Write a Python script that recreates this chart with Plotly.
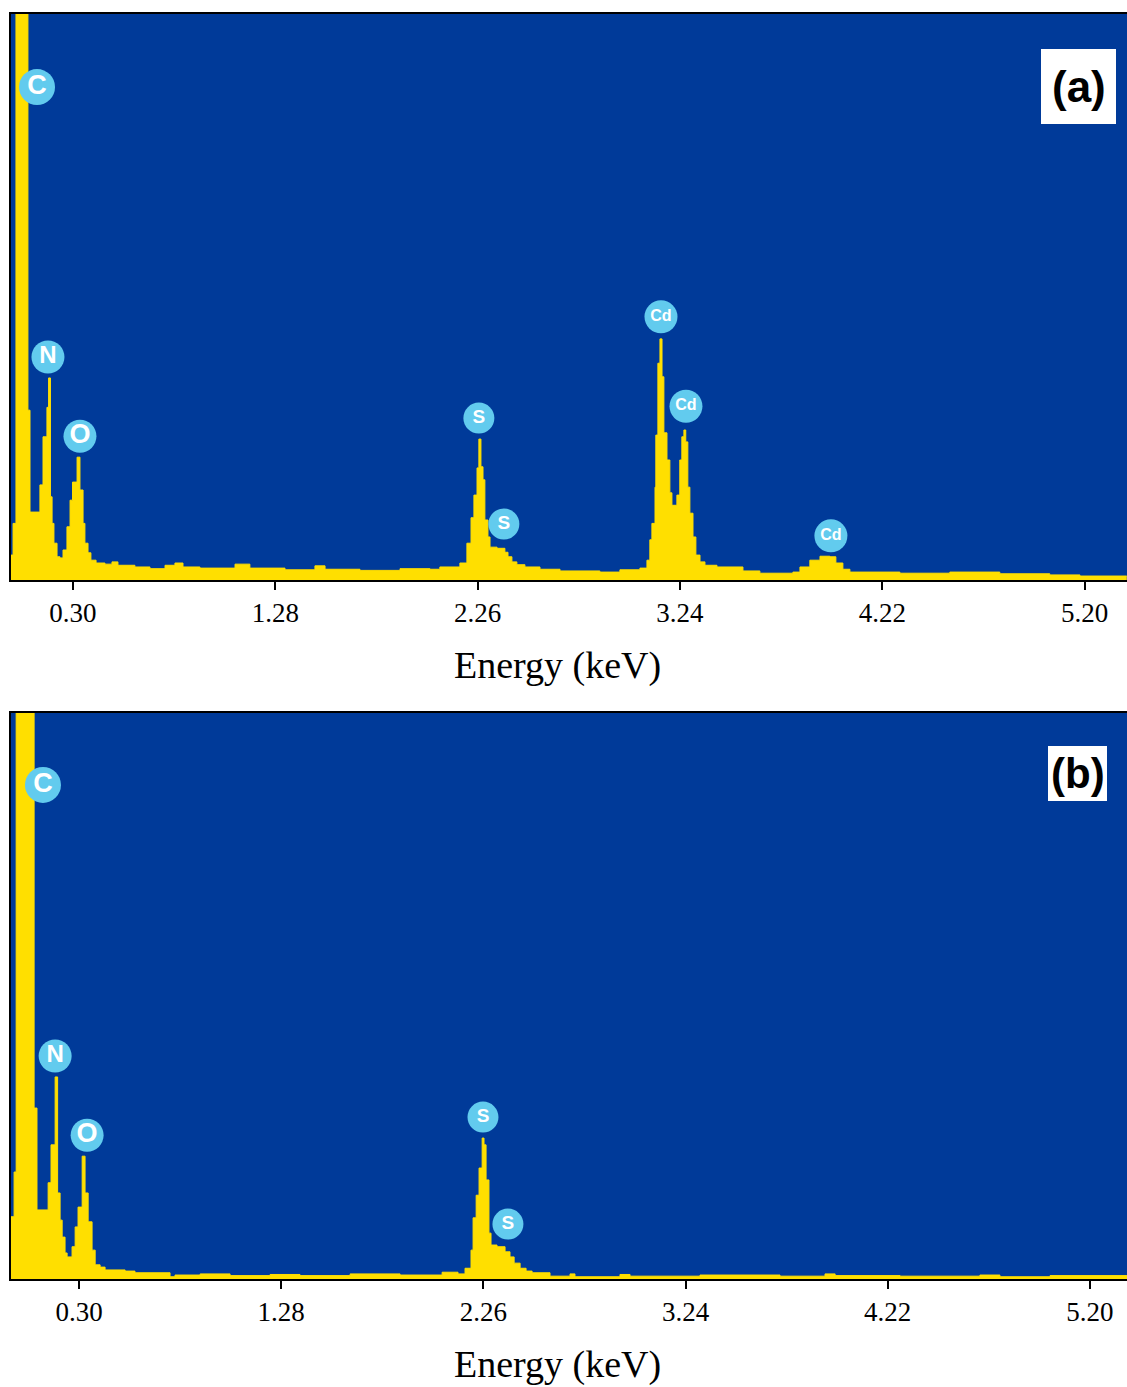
import plotly.graph_objects as go
from plotly.subplots import make_subplots

# EDS spectrum (a): step start energy (keV) and counts (a.u.)
energy_a = [0.000, 0.010, 0.024, 0.082, 0.092, 0.140, 0.155, 0.174, 0.182, 0.191,
            0.199, 0.208, 0.223, 0.237, 0.252, 0.271, 0.286, 0.298, 0.320, 0.334,
            0.349, 0.358, 0.373, 0.387, 0.412, 0.455, 0.489, 0.518, 0.600, 0.673,
            0.746, 0.794, 0.833, 0.915, 1.085, 1.157, 1.327, 1.472, 1.521, 1.690,
            1.884, 2.029, 2.077, 2.174, 2.208, 2.228, 2.242, 2.257, 2.266, 2.276,
            2.286, 2.295, 2.310, 2.320, 2.354, 2.392, 2.407, 2.426, 2.450, 2.489,
            2.562, 2.659, 2.852, 2.949, 3.046, 3.080, 3.094, 3.104, 3.119, 3.123,
            3.133, 3.143, 3.153, 3.162, 3.177, 3.191, 3.201, 3.225, 3.239, 3.249,
            3.259, 3.268, 3.278, 3.288, 3.303, 3.317, 3.337, 3.361, 3.419, 3.545,
            3.627, 3.787, 3.821, 3.869, 3.918, 3.966, 3.995, 4.029, 4.063, 4.305,
            4.547, 4.789, 5.031, 5.177, 5.404]
counts_a = [44, 100, 2600, 300, 120, 168, 253, 305, 357, 147,
            100, 65, 41, 39, 53, 94, 141, 173, 217, 159,
            100, 65, 48, 35, 30, 28, 32, 26, 23, 20,
            26, 30, 23, 21, 28, 21, 18, 25, 19, 17,
            20, 19, 23, 30, 65, 110, 150, 198, 249, 200,
            177, 106, 76, 58, 56, 49, 41, 32, 27, 23,
            19, 16, 14, 18, 21, 35, 71, 100, 164, 256,
            383, 426, 359, 260, 212, 154, 132, 150, 212, 253,
            265, 244, 164, 118, 76, 44, 32, 26, 23, 16,
            12, 14, 23, 35, 42, 41, 30, 19, 14, 12,
            14, 11, 9, 7, 7]

# EDS spectrum (b)
energy_b = [-0.030, -0.015, -0.005, 0.082, 0.096, 0.150, 0.164, 0.184, 0.196, 0.208,
            0.218, 0.232, 0.242, 0.266, 0.281, 0.295, 0.315, 0.329, 0.344, 0.363,
            0.378, 0.402, 0.426, 0.523, 0.571, 0.741, 0.765, 0.887, 1.032, 1.226,
            1.371, 1.614, 1.856, 2.060, 2.137, 2.171, 2.200, 2.210, 2.225, 2.239,
            2.254, 2.263, 2.273, 2.287, 2.297, 2.326, 2.365, 2.389, 2.409, 2.438,
            2.467, 2.496, 2.583, 2.680, 2.704, 2.922, 2.971, 3.310, 3.698, 3.916,
            3.965, 4.280, 4.667, 4.764, 5.007, 5.380]
counts_b = [110, 189, 2600, 302, 122, 170, 237, 357, 152, 104,
            74, 46, 39, 57, 92, 127, 217, 152, 101, 51,
            25, 21, 16, 14, 11, 4, 7, 9, 6, 8,
            6, 9, 7, 12, 9, 19, 51, 108, 148, 196,
            249, 237, 175, 81, 60, 57, 48, 39, 28, 19,
            14, 11, 5, 9, 4, 8, 5, 7, 5, 9,
            6, 5, 7, 4, 6, 6]

# Element labels placed over their peaks
elements_a = ["C", "N", "O", "S", "S", "Cd", "Cd", "Cd"]
label_e_a = [0.126, 0.179, 0.334, 2.266, 2.387, 3.148, 3.269, 3.971]
label_y_a = [871, 394, 254, 286, 99, 465, 307, 78]

elements_b = ["C", "N", "O", "S", "S"]
label_e_b = [0.125, 0.184, 0.339, 2.258, 2.379]
label_y_b = [873, 394, 254, 286, 97]

tick_vals = [0.30, 1.28, 2.26, 3.24, 4.22, 5.20]
tick_text = [f"{v:.2f}" for v in tick_vals]

BLUE = "#003A99"
YELLOW = "#FFDF00"
BADGE = "#62CBEE"

W, H = 1127, 1387
ML, MR, MT, MB = 11, 0, 14, 108
PW, PH = W - ML - MR, H - MT - MB


def px_x(x):
    return (x - ML) / PW


def px_y(y):
    return (H - MB - y) / PH


fig = make_subplots(rows=2, cols=1, vertical_spacing=0.0)

for row, (ex, ct) in enumerate([(energy_a, counts_a), (energy_b, counts_b)], start=1):
    fig.add_trace(go.Scatter(x=ex, y=ct, mode="lines", line_shape="hv",
                             line=dict(color=YELLOW, width=1), fill="tozeroy",
                             fillcolor=YELLOW, hoverinfo="skip", showlegend=False),
                  row=row, col=1)


def badge_sizes(names):
    return [36 if n == "C" else (33 if n in ("N", "O", "Cd") else 31) for n in names]


def badge_fonts(names):
    return [27 if n in ("C", "O") else (24 if n == "N" else (19 if n == "S" else 16)) for n in names]


for row, (names, ex, ey) in enumerate([(elements_a, label_e_a, label_y_a),
                                       (elements_b, label_e_b, label_y_b)], start=1):
    fig.add_trace(go.Scatter(x=ex, y=ey, mode="markers+text", text=names,
                             textposition="middle center",
                             marker=dict(color=BADGE, size=badge_sizes(names), opacity=1,
                                         line=dict(width=0)),
                             textfont=dict(color="white", size=badge_fonts(names),
                                           family="Liberation Sans", weight="bold"),
                             opacity=1, hoverinfo="skip", showlegend=False, cliponaxis=False),
                  row=row, col=1)

axis_common = dict(showgrid=False, zeroline=False)
fig.update_xaxes(**axis_common, tickvals=tick_vals, ticktext=tick_text, ticks="outside",
                 ticklen=8, tickwidth=2, tickcolor="black", showline=True, mirror=True,
                 linecolor="black", linewidth=2,
                 tickfont=dict(family="Liberation Serif", size=27, color="black"))
fig.update_yaxes(**axis_common, range=[0, 1000], showticklabels=False, ticks="",
                 showline=True, mirror=False, linecolor="black", linewidth=2)

fig.update_xaxes(range=[0.0, 5.405], row=1, col=1)
fig.update_xaxes(range=[-0.030, 5.380], row=2, col=1)

fig.update_layout(
    xaxis=dict(domain=[0, 1]), xaxis2=dict(domain=[0, 1]),
    yaxis=dict(domain=[px_y(580), 1.0]),
    yaxis2=dict(domain=[0.0, px_y(713)]),
)

# axis titles
for ypix in (665, 1364):
    fig.add_annotation(text="Energy (keV)", xref="paper", yref="paper",
                       x=px_x(557), y=px_y(ypix), showarrow=False,
                       xanchor="center", yanchor="middle",
                       font=dict(family="Liberation Serif", size=38, color="black"))

# panel tags
for tag, (x0, y0, x1, y1), fs in [("(a)", (1041, 49, 1116, 124), 44),
                                  ("(b)", (1048, 746, 1107, 801), 42)]:
    fig.add_shape(type="rect", xref="paper", yref="paper",
                  x0=px_x(x0), x1=px_x(x1), y0=px_y(y1), y1=px_y(y0),
                  fillcolor="white", line=dict(width=0))
    fig.add_annotation(text=f"<b>{tag}</b>", xref="paper", yref="paper",
                       x=px_x((x0 + x1) / 2), y=px_y((y0 + y1) / 2), showarrow=False,
                       xanchor="center", yanchor="middle",
                       font=dict(family="Liberation Sans", size=fs, color="black"))

fig.update_layout(
    width=W, height=H,
    margin=dict(l=ML, r=MR, t=MT, b=MB),
    plot_bgcolor=BLUE, paper_bgcolor="white",
    showlegend=False,
)

fig.write_html("out.html")
